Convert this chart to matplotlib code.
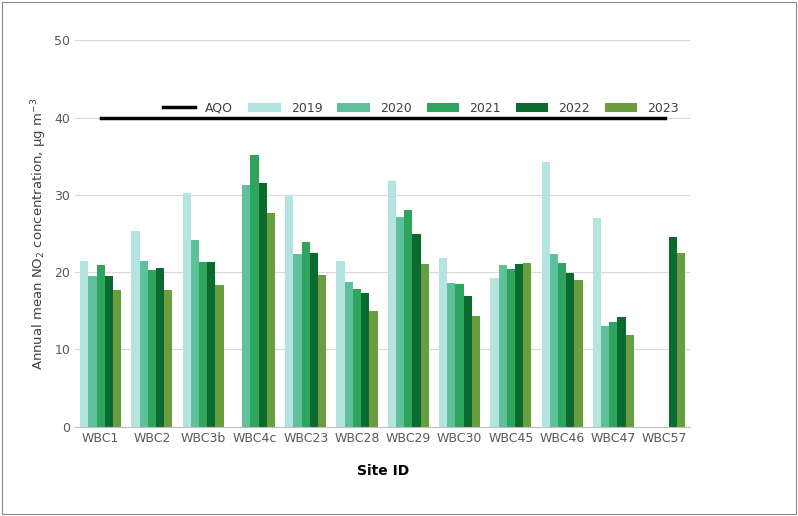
import numpy as np
import matplotlib.pyplot as plt
from matplotlib.patches import Rectangle

sites = ['WBC1', 'WBC2', 'WBC3b', 'WBC4c', 'WBC23', 'WBC28', 'WBC29', 'WBC30',
         'WBC45', 'WBC46', 'WBC47', 'WBC57']
years = ['2019', '2020', '2021', '2022', '2023']
nan = np.nan
v2019 = [21.5, 25.3, 30.3, nan, 29.9, 21.4, 31.8, 21.8, 19.2, 34.2, 27.0, nan]
v2020 = [19.5, 21.4, 24.1, 31.3, 22.4, 18.7, 27.1, 18.6, 20.9, 22.4, 13.0, nan]
v2021 = [20.9, 20.3, 21.3, 35.1, 23.9, 17.8, 28.0, 18.5, 20.4, 21.2, 13.5, nan]
v2022 = [19.5, 20.5, 21.3, 31.5, 22.5, 17.3, 24.9, 16.9, 21.0, 19.9, 14.2, 24.6]
v2023 = [17.7, 17.7, 18.4, 27.7, 19.6, 15.0, 21.1, 14.3, 21.2, 19.0, 11.9, 22.5]
aqo = 40
colors = ['#b3e4df', '#5fc09c', '#2fa45d', '#0b6a2e', '#6a9d3f']

fig = plt.figure(figsize=(7.98, 5.16), dpi=100)
fig.patches.append(Rectangle((0.003, 0.003), 0.994, 0.994, transform=fig.transFigure,
                             fill=False, edgecolor='#888888', lw=0.8))
ax = fig.add_axes([0.094, 0.173, 0.771, 0.749])
x = np.arange(len(sites))
w = 0.16
for i, (vals, c, y) in enumerate(zip([v2019, v2020, v2021, v2022, v2023], colors, years)):
    ax.bar(x + (i - 2) * w, vals, w, color=c, label=y, zorder=2)
ax.plot([x[0], x[-1]], [aqo, aqo], color='black', lw=2.5, label='AQO', zorder=3)

ax.set_xlim(-0.5, len(sites) - 0.5)
ax.set_ylim(0, 50)
ax.set_yticks(range(0, 51, 10))
ax.set_xticks(x)
ax.set_xticklabels(sites)
ax.grid(axis='y', color='#d9d9d9', lw=0.8, zorder=0)
for s in ['top', 'right', 'left']:
    ax.spines[s].set_visible(False)
ax.spines['bottom'].set_color('#bfbfbf')
ax.tick_params(length=0, colors='#595959', labelsize=9)
ax.set_ylabel('Annual mean NO$_2$ concentration, µg m$^{-3}$', color='#404040', fontsize=9.5)
ax.set_xlabel('Site ID', fontsize=10, fontweight='bold', labelpad=14)
ax.legend(ncol=6, loc='upper right', bbox_to_anchor=(1.0, 0.87), frameon=False,
          fontsize=9, handlelength=2.6, columnspacing=1.2, labelcolor='#404040')
fig.savefig('out.png', dpi=100)
